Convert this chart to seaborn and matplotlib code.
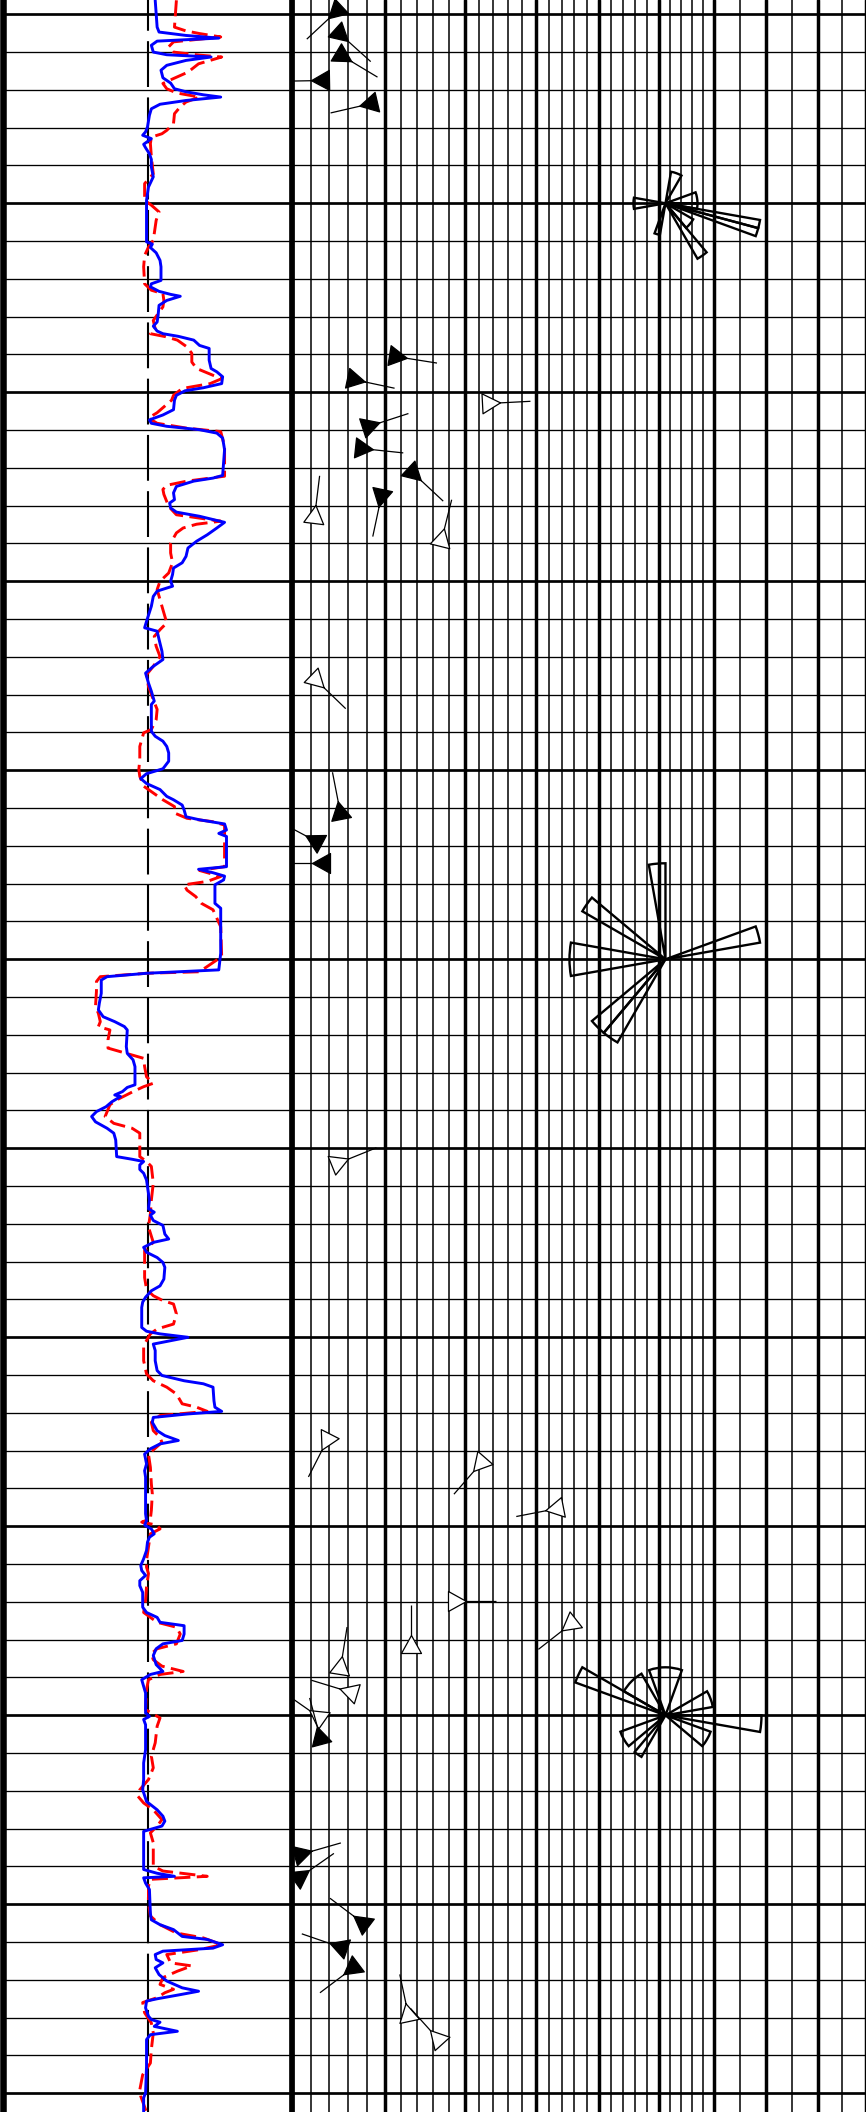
import numpy as np
import matplotlib
matplotlib.use("Agg")
import matplotlib.pyplot as plt
from matplotlib.markers import MarkerStyle
from matplotlib.path import Path
import seaborn as sns

# ---------------- Gamma-ray curves (depth in m, GR in API) ----------------
gr_depth = [1999.63, 2000.34, 2000.47, 2000.56, 2000.63, 2000.71, 2000.82, 2001.0, 2001.07, 2001.13,
            2001.22, 2001.35, 2001.48, 2001.68, 2001.82, 2001.97, 2002.05, 2002.13, 2002.19, 2002.28,
            2002.38, 2002.5, 2002.67, 2002.98, 2003.11, 2003.2, 2003.29, 2003.44, 2003.53, 2003.69,
            2003.84, 2004.04, 2004.3, 2004.57, 2004.92, 2006.02, 2006.08, 2006.17, 2006.31, 2006.51,
            2006.68, 2007.04, 2007.13, 2007.21, 2007.33, 2007.41, 2007.46, 2007.57, 2007.7, 2007.96,
            2008.14, 2008.25, 2008.38, 2008.45, 2008.52, 2008.62, 2008.76, 2008.84, 2009.15, 2009.37,
            2009.46, 2009.59, 2009.77, 2009.88, 2009.96, 2010.08, 2010.21,
            2010.46, 2010.6, 2010.73, 2010.82, 2010.9, 2010.99, 2011.08, 2011.21, 2011.52, 2012.2,
            2012.27, 2012.35, 2012.49, 2012.66, 2012.84, 2012.93, 2013.06, 2013.17, 2013.28, 2013.44,
            2013.59, 2013.77, 2013.94, 2014.12, 2014.34, 2014.51, 2014.65, 2014.82, 2015.0, 2015.13,
            2015.26, 2015.4, 2015.66, 2016.06, 2016.23, 2016.32, 2016.54, 2016.85, 2017.07, 2017.25,
            2017.43, 2017.69, 2017.91, 2018.17, 2018.26, 2018.66, 2018.97, 2019.1, 2019.23, 2019.37,
            2019.54, 2019.76, 2019.96, 2020.09, 2020.22, 2020.35, 2020.51, 2020.69, 2020.78,
            2020.92, 2021.05, 2021.23, 2021.31, 2021.42, 2021.58, 2021.67, 2021.75, 2022.55, 2022.62,
            2022.71, 2022.8, 2022.9, 2023.03, 2023.52, 2023.65, 2024.84, 2025.28, 2025.37, 2025.46,
            2025.55, 2025.9, 2026.16, 2026.34, 2026.52, 2026.65, 2026.78, 2026.87, 2027.31, 2027.49,
            2027.66, 2027.84, 2028.32, 2028.39, 2028.5, 2028.59, 2028.63, 2028.77, 2028.9, 2029.03,
            2029.16, 2029.3, 2029.47, 2029.6, 2029.78, 2030.22, 2030.29, 2030.35, 2030.44, 2030.56,
            2030.66, 2030.84, 2031.37,
            2031.6, 2031.69, 2031.77, 2031.91, 2032.04, 2032.27, 2032.4, 2032.49, 2032.62, 2032.75,
            2032.89, 2033.02, 2033.15, 2033.46, 2033.64, 2033.77, 2033.94, 2034.07, 2034.21, 2034.74,
            2034.84, 2034.91, 2035.0, 2035.09, 2035.18, 2035.35, 2035.62, 2035.88, 2036.01, 2036.15,
            2036.23, 2036.32, 2036.68, 2036.85, 2036.96, 2037.03, 2037.12, 2037.25, 2037.47, 2037.6,
            2037.73, 2037.82, 2037.95, 2038.09, 2038.35, 2038.53, 2038.7, 2039.14, 2039.67, 2039.85,
            2039.97, 2040.07, 2040.2, 2040.29, 2040.42, 2040.64, 2040.86, 2041.04, 2041.17, 2041.3,
            2041.44, 2041.57, 2041.75, 2042.14, 2042.28, 2042.41, 2042.54, 2042.63, 2042.85, 2043.02,
            2043.11, 2043.24, 2043.42,
            2043.66, 2043.84, 2043.92, 2044.06, 2044.23, 2044.41, 2044.94, 2045.03, 2045.11, 2045.25,
            2045.91, 2046.26, 2046.7, 2046.97, 2047.28, 2047.5, 2047.67, 2047.8, 2047.93, 2048.07,
            2048.2, 2049.08, 2049.18, 2049.26, 2049.3, 2049.44, 2049.61, 2050.24, 2050.41, 2050.54,
            2050.67, 2050.85, 2050.93, 2051.07, 2051.16, 2051.24, 2051.33, 2051.46, 2051.55, 2051.68,
            2051.86, 2052.03, 2052.21, 2052.3, 2052.39, 2052.5, 2052.56, 2052.74, 2052.96, 2053.05,
            2053.12, 2053.23, 2053.36, 2053.45, 2053.58, 2054.29, 2054.99, 2055.12, 2055.5]
gr_value = [79, 80, 81, 95, 112, 80, 77, 78, 85, 108,
            95, 85, 82, 83, 87, 89, 95, 104, 113, 95,
            81.5, 77, 76, 75, 74, 72.5, 77, 73, 74, 76,
            77, 77, 78, 75.5, 74.5, 74.5, 77.5, 76.5, 79.5, 81.5,
            82, 82, 77, 76.5, 81, 87, 92, 85, 81, 80.5,
            80, 78, 80, 83, 91, 99, 102, 107, 107, 108,
            111, 114, 113.5, 104, 94.5, 90, 89,
            88.5, 83, 76, 77, 85, 102, 111, 114, 115, 114,
            109, 99, 90, 88.5, 89, 86.5, 87, 90, 102, 115,
            111, 106, 100.5, 96, 95, 93, 88.5, 88, 87, 88,
            80, 78, 77, 74.5, 73.5, 80, 81, 82.5, 83, 78,
            74, 75.5, 77, 78.5, 77, 77, 77, 79, 83, 85,
            86, 86, 83, 74.5, 71.5, 74.5, 81.5, 85, 88.5,
            93, 94, 95, 102, 115, 116, 112, 116, 116, 101.5,
            109, 115, 114.5, 110, 110, 113, 113, 112, 74.5, 54,
            51, 51, 50, 49.5, 52, 58, 63, 64.5, 64, 64.5,
            67.5, 68.5, 68.5, 64.5, 62, 58, 61, 56.5, 53.5, 48.5,
            46, 48, 54, 57.5, 58.5, 59, 67, 73, 71, 71,
            73, 74.5, 76,
            75.5, 78.5, 76.5, 78, 83, 84, 86, 78, 73, 74.5,
            80, 83, 84, 83.5, 81.5, 77, 74, 72.5, 72, 72,
            74.5, 81.5, 96, 87, 78, 79, 79, 80, 82.5, 94,
            104, 109, 109.5, 110, 113.5, 95.5, 78, 77.5, 80, 84,
            91, 81.5, 76.5, 73.5, 74.5, 73.5, 74, 74, 74, 74.5,
            73.5, 77, 78.5, 76, 75, 74.5, 73, 71.5, 72, 74,
            71, 71, 72.5, 72.5, 74.5, 80, 81.5, 94, 94, 93,
            83, 79.5, 78,
            79.5, 83, 76.5, 72, 73, 74, 74, 76, 73, 74,
            74, 73, 73, 72.5, 74.5, 80, 83, 84, 82.5, 73,
            73, 73, 80, 89, 73, 74, 76, 76.5, 77, 81.5,
            88.5, 93, 106, 114, 109, 83, 79, 79.5, 83, 79,
            81, 85, 93, 101.5, 92, 80, 74.5, 74, 75.5, 77,
            81.5, 78.5, 90.5, 76.5, 74.5, 74.5, 74, 73, 73]

sgr_depth = [1999.63, 2000.34, 2000.44, 2000.51, 2000.6, 2000.73, 2000.86, 2001.0, 2001.08, 2001.13,
             2001.31, 2001.53, 2001.7, 2001.83, 2001.97, 2002.08, 2002.19, 2002.32, 2002.45, 2002.63,
             2002.89, 2003.07, 2003.16, 2003.25, 2003.42, 2003.77, 2004.22, 2004.48, 2004.92, 2005.05,
             2005.23, 2005.45, 2005.98, 2006.16, 2006.38, 2006.68, 2007.13, 2007.3, 2007.39, 2007.57,
             2007.74, 2008.1, 2008.32, 2008.45, 2008.53, 2008.62, 2008.8, 2008.97, 2009.2, 2009.37,
             2009.55, 2009.64, 2009.77, 2009.9, 2010.08, 2010.21,
             2010.54, 2010.68, 2010.82, 2010.95, 2011.04, 2011.43, 2012.22, 2012.35, 2012.46, 2012.57,
             2012.7, 2013.02, 2013.24, 2013.41, 2013.49, 2013.59, 2013.72, 2013.99, 2014.25, 2014.51,
             2014.78, 2015.0, 2015.22, 2015.4, 2015.75, 2016.1, 2016.28, 2016.46, 2016.72, 2016.99,
             2017.25, 2017.47, 2017.78, 2018.13, 2018.39, 2018.66, 2018.92, 2019.01, 2019.37, 2019.72,
             2019.98, 2020.16, 2020.42, 2020.6, 2020.78,
             2020.96, 2021.13, 2021.27, 2021.36, 2021.45, 2022.55, 2022.65, 2022.81, 2022.94, 2023.03,
             2023.17, 2023.34, 2023.52, 2023.69, 2024.14, 2024.93, 2025.33, 2025.37, 2025.46, 2025.59,
             2025.85, 2026.25, 2026.43, 2026.65, 2026.78, 2026.87, 2027.13, 2027.35, 2027.49, 2027.62,
             2027.84, 2028.11, 2028.28, 2028.37, 2028.5, 2028.63, 2028.72, 2028.85, 2029.16, 2029.34,
             2029.47, 2029.6, 2030.0, 2030.22, 2030.35, 2030.48, 2030.92, 2031.37,
             2031.73, 2032.08, 2032.49, 2032.71, 2033.02, 2033.42, 2033.73, 2033.9, 2034.03, 2034.12,
             2034.38, 2034.65, 2034.78, 2034.91, 2035.09, 2035.22, 2035.62, 2035.97, 2036.15, 2036.32,
             2036.5, 2036.76, 2036.85, 2036.96, 2037.07, 2037.25, 2037.47, 2037.65, 2037.78, 2038.09,
             2038.44, 2038.88, 2039.14, 2039.58, 2039.8, 2039.89, 2039.97, 2040.07, 2040.2, 2040.55,
             2040.9, 2041.08, 2041.25, 2041.6, 2041.96, 2042.28, 2042.41, 2042.54, 2042.67, 2042.85,
             2043.11, 2043.24, 2043.37,
             2043.53, 2043.7, 2043.84, 2043.92, 2044.06, 2044.32, 2044.85, 2045.07, 2045.29, 2045.73,
             2046.08, 2046.39, 2046.7, 2046.97, 2047.14, 2047.32, 2047.5, 2047.76, 2047.93, 2048.11,
             2048.37, 2048.73, 2048.99, 2049.12, 2049.26, 2049.34, 2049.52, 2049.96, 2050.31, 2050.54,
             2050.76, 2050.89, 2051.07, 2051.2, 2051.33, 2051.55, 2051.63, 2051.77, 2051.94, 2052.12,
             2052.25, 2052.34, 2052.47, 2052.6, 2052.87, 2053.14, 2053.4, 2053.84, 2054.2, 2054.51,
             2054.91, 2055.08, 2055.5]
sgr_value = [90, 89, 95, 102, 113, 88.5, 86, 88.5, 102, 113.5,
             101.5, 96, 88.5, 83, 85, 90, 102, 95, 92, 89,
             88.5, 85, 82.5, 77, 76.5, 77, 78, 73.5, 73.5, 77,
             81, 79.5, 78, 75.5, 73.5, 73, 73.5, 77, 83, 83.5,
             83, 78, 79, 76.5, 84.5, 90.5, 95.5, 98, 98, 100.5,
             109, 113.5, 107.5, 93, 88.5, 87.5,
             80, 75.5, 80, 95.5, 113, 115, 115, 95.5, 85, 83,
             83.5, 86, 90, 113, 100.5, 93.5, 90, 87, 87, 88,
             86, 81.5, 80, 81, 83, 85, 81.5, 78.5, 79.5, 81.5,
             78, 74.5, 75.5, 78, 80, 79.5, 77, 73, 71, 71,
             70.5, 71, 73, 78, 83,
             89, 89, 95.5, 109, 115, 115, 102, 113, 106, 94,
             95.5, 100, 103, 109, 113, 113.5, 102, 74.5, 50.5, 48.5,
             48.5, 48, 49.5, 50.5, 49.5, 55.5, 54.5, 54.5, 64, 73,
             73.5, 74.5, 78, 73, 67.5, 62.5, 59, 55.5, 53, 57.5,
             67, 71, 71, 71, 74.5, 77, 78, 77,
             76.5, 75.5, 78, 73.5, 73.5, 73.5, 74.5, 78, 83, 88.5,
             90, 88.5, 80, 76.5, 74.5, 73, 73, 74.5, 78, 85,
             90, 93, 100.5, 106, 81.5, 77, 78, 81.5, 82.5, 75.5,
             76.5, 77, 77.5, 77, 76.5, 72, 80, 81.5, 76.5, 75.5,
             74.5, 74.5, 75.5, 74.5, 74, 73, 76.5, 80, 90, 92,
             90, 80, 77,
             78, 82.5, 93.5, 81.5, 75.5, 74.5, 74, 81.5, 80, 79,
             77, 78, 75.5, 71, 70, 73, 78, 82.5, 80, 76.5,
             78, 78, 78, 83, 106, 76.5, 75.5, 75.5, 76.5, 81.5,
             90, 104, 113.5, 102, 85, 87, 98, 90.5, 83, 81.5,
             88.5, 84, 80, 72.5, 73.5, 77, 78, 77, 76.5, 72.5,
             71, 71.5, 74.5]

# ---------------- Dip tadpoles ----------------
dip_depth = [1999.89, 2000.49, 2001.08, 2001.74, 2002.35, 2009.03, 2009.65, 2010.28, 2010.89, 2011.48,
             2012.10, 2012.72, 2013.31, 2013.91, 2017.59, 2021.14, 2021.86, 2022.46, 2030.40, 2037.70,
             2038.31, 2039.52, 2041.98, 2042.57, 2043.19, 2043.76, 2044.38, 2045.04, 2045.61, 2048.67,
             2049.27, 2050.50, 2051.12, 2051.65, 2052.93, 2053.57]
dip_angle = [4.8, 5.0, 5.3, 3.3, 8.5, 11.2, 6.5, 23.2, 8.2, 7.4,
             13.3, 9.5, 2.4, 17.0, 2.5, 5.1, 2.6, 3.4, 4.8, 3.8,
             22.3, 33.3, 18.7, 35.5, 13.2, 5.1, 6.3, 2.9, 3.0, 0.9,
             0.8, 7.6, 5.2, 6.5, 12.8, 16.6]
dip_azimuth = [227, 132, 121, 269, 257, 99, 102, 87, 72, 96,
               133, 192, 7, 14, 134, 349, 298, 270, 68, 207,
               221, 259, 90, 232, 0, 9, 287, 305, 345, 74,
               55, 307, 289, 233, 348, 318]
dip_good = [1, 1, 1, 1, 1, 1, 1, 0, 1, 1,
            1, 1, 0, 0, 0, 1, 1, 1, 0, 0,
            0, 0, 0, 0, 0, 0, 0, 0, 1, 1,
            1, 1, 1, 1, 0, 0]

# ---------------- Azimuth rose diagrams (10 degree bins) ----------------
rose_depths = [2005, 2025, 2045]
rose1_from = [10, 70, 90, 100, 105, 120, 140, 190, 260]
rose1_to = [30, 90, 100, 105, 110, 140, 150, 200, 280]
rose1_count = [1, 1, 1, 3, 3, 1, 2, 1, 1]
rose2_from = [350, 300, 260, 70, 210, 220]
rose2_to = [360, 310, 280, 80, 220, 230]
rose2_count = [1, 1, 1, 1, 1, 1]
rose3_from = [340, 290, 300, 60, 90, 110, 230, 210]
rose3_to = [380, 300, 330, 80, 100, 130, 250, 220]
rose3_count = [1, 2, 1, 1, 2, 1, 1, 1]

# ---------------- Figure layout ----------------
sns.set_style("white")
W, H, DPI = 866, 2112, 100
fig = plt.figure(figsize=(W / DPI, H / DPI), dpi=DPI)
fig.patch.set_facecolor("white")

TOP, BOTTOM = 1999.622, 2055.495
major_depth = np.arange(2000, 2056, 5)
minor_depth = np.arange(2000, 2056, 1)

# compressive dip scale (decade positions as fraction of the track width)
DIP_KNOTS = np.arange(0, 100, 10)
DIP_FRAC = np.array([0, 0.1625, 0.3010, 0.4259, 0.5351, 0.6392, 0.7347, 0.8257, 0.9167, 1.0])


def dip_fwd(d):
    return np.interp(d, DIP_KNOTS, DIP_FRAC)


def dip_inv(f):
    return np.interp(f, DIP_FRAC, DIP_KNOTS)


def depth_grid(ax):
    ax.set_yticks(major_depth)
    ax.set_yticks(minor_depth, minor=True)
    ax.grid(axis="y", which="major", color="black", lw=1.95)
    ax.grid(axis="y", which="minor", color="black", lw=0.95)
    ax.set_axisbelow(True)
    ax.tick_params(which="both", length=0, labelleft=False, labelbottom=False)
    for s in ("top", "bottom", "right"):
        ax.spines[s].set_visible(False)
    ax.spines["left"].set_color("black")


# ---- GR track ----
axL = fig.add_axes([3 / W, 0, 289 / W, 1])
axL.set_xlim(0, 150)
axL.set_ylim(BOTTOM, TOP)
axL.set_xticks([])
depth_grid(axL)
axL.spines["left"].set_linewidth(4.7)
axL.axvline(75, color="black", lw=1.5, dashes=(22, 5), zorder=2)

sns.lineplot(x=sgr_value, y=sgr_depth, sort=False, estimator=None, color="#ff0000",
             lw=2.1, linestyle=(0, (5.5, 2.2)), ax=axL, zorder=3)
sns.lineplot(x=gr_value, y=gr_depth, sort=False, estimator=None, color="#0000ff",
             lw=2.1, ax=axL, zorder=4)
axL.set_xlim(0, 150)
axL.set_ylim(BOTTOM, TOP)
axL.set_xlabel("")
axL.set_ylabel("")

# ---- Dip track ----
axR = fig.add_axes([292 / W, 0, 574 / W, 1])
axR.set_xscale("function", functions=(dip_fwd, dip_inv))
axR.set_xlim(0, 90)
axR.set_ylim(BOTTOM, TOP)
dip_major = np.arange(0, 91, 10)
dip_minor = [d for d in range(2, 60, 2) if d % 10] + [65, 75, 85]
axR.set_xticks(dip_major)
axR.set_xticks(dip_minor, minor=True)
axR.grid(axis="x", which="major", color="black", lw=2.5)
axR.grid(axis="x", which="minor", color="black", lw=1.1)
depth_grid(axR)
axR.spines["left"].set_linewidth(4.1)


def tadpole_path(az_deg, base_px=20.0, height_px=18.0, tail_px=30.0):
    k = 72.0 / DPI
    a = np.deg2rad(az_deg)
    u = np.array([np.sin(a), np.cos(a)])
    p = np.array([np.cos(a), -np.sin(a)])
    apex = u * (2.0 * height_px / 3.0) * k
    bc = -u * (height_px / 3.0) * k
    b1 = bc + p * (base_px / 2.0) * k
    b2 = bc - p * (base_px / 2.0) * k
    tip = apex + u * tail_px * k
    verts = np.array([apex, b1, b2, apex, apex, tip])
    codes = [Path.MOVETO, Path.LINETO, Path.LINETO, Path.CLOSEPOLY, Path.MOVETO, Path.LINETO]
    return Path(verts, codes), 2.0 * np.abs(verts).max()


for d, ang, az, good in zip(dip_depth, dip_angle, dip_azimuth, dip_good):
    path, size = tadpole_path(az)
    axR.plot([ang], [d], ls="none", marker=MarkerStyle(path), ms=size,
             mfc="black" if good else "white", mec="black", mew=0.9, zorder=5)

# ---- Rose diagrams ----
R_PX = 96.0
ROSE_DIP = 51.2
roses = [(rose1_from, rose1_to, rose1_count),
         (rose2_from, rose2_to, rose2_count),
         (rose3_from, rose3_to, rose3_count)]
for depth, (a0, a1, cnt) in zip(rose_depths, roses):
    cx, cy = axR.transData.transform((ROSE_DIP, depth))
    axP = fig.add_axes([(cx - R_PX) / W, (cy - R_PX) / H, 2 * R_PX / W, 2 * R_PX / H],
                       projection="polar")
    axP.set_theta_zero_location("N")
    axP.set_theta_direction(-1)
    a0 = np.array(a0, float)
    a1 = np.array(a1, float)
    bars = axP.bar(np.deg2rad((a0 + a1) / 2), cnt, width=np.deg2rad(a1 - a0), bottom=0,
                   fill=False, edgecolor="black", linewidth=1.7, align="center")
    for b in bars:
        b.set_clip_on(False)
    axP.set_ylim(0, max(cnt))
    axP.set_axis_off()
    axP.patch.set_alpha(0)

fig.savefig("out.png", dpi=DPI)
